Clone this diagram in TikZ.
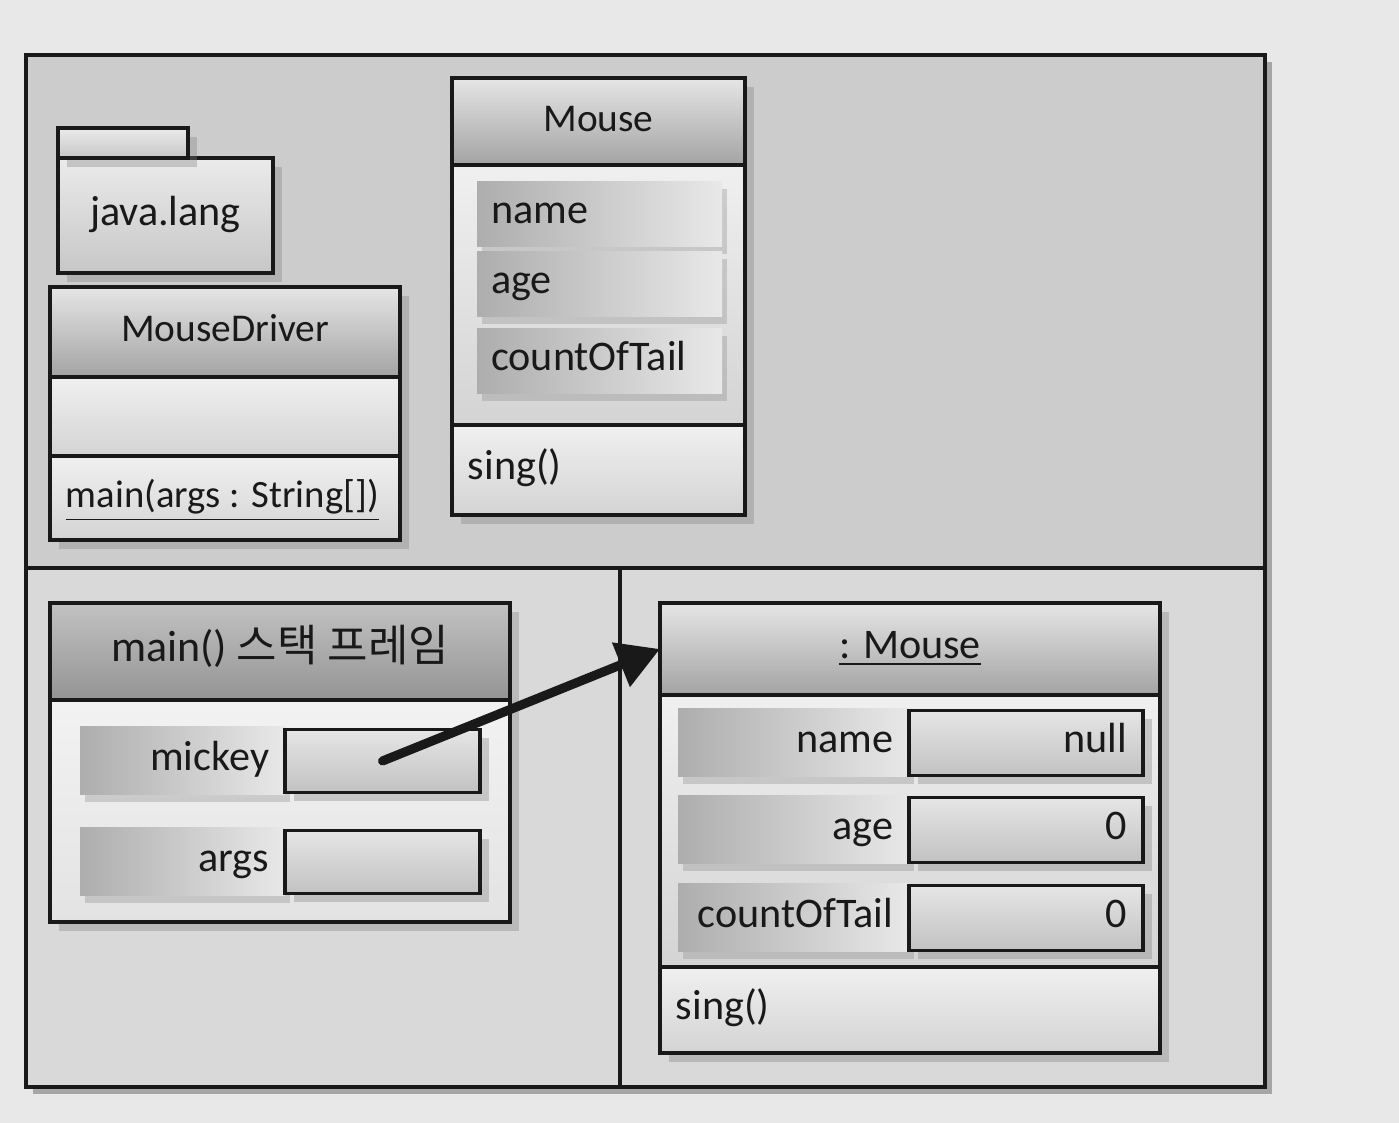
\documentclass[tikz,border=0pt]{standalone}
\usepackage{fontspec}
\setmainfont{Carlito}
\newfontfamily\krfont{Noto Sans CJK KR}
\usetikzlibrary{positioning,arrows.meta,shadows}

\tikzset{
  box/.style={draw=black!90, line width=0.9pt, rectangle, inner sep=0pt, outer sep=0pt},
  txt/.style={font=\fontsize{12}{14}\selectfont, text=black!90, text height=1.6ex, text depth=0.45ex},
  head/.style={box, txt, font=\fontsize{11.2}{14}\selectfont, top color=black!10, bottom color=black!36},
  stackhead/.style={head, font=\fontsize{12.5}{14}\selectfont, top color=black!24, bottom color=black!42},
  part/.style={box, top color=black!6, bottom color=black!17},
  shade/.style={drop shadow={opacity=0.35, shadow xshift=2.5pt, shadow yshift=-2.5pt}},
  field/.style={rectangle, inner sep=0pt, outer sep=0pt, left color=black!32, right color=black!9,
    drop shadow={opacity=0.3, shadow xshift=1.5pt, shadow yshift=-2pt}},
  slot/.style={box, line width=1pt, top color=black!10, bottom color=black!24, shade},
  ref/.style={line width=2.6pt, line cap=round, draw=black!90, -{Triangle[length=12pt,width=13pt]}},
}

\begin{document}
\begin{tikzpicture}
  \useasboundingbox[fill=black!9] (0,0) rectangle (13.99,11.23);

  % 바깥 틀
  \fill[black!35] (0.33,0.29) rectangle (12.72,10.61);
  \fill[black!20] (0.26,5.55) rectangle (12.65,10.68);
  \fill[black!15] (0.26,0.36) rectangle (12.65,5.55);
  \draw[black!90, line width=0.9pt] (0.26,0.36) rectangle (12.65,10.68);
  \draw[black!90, line width=0.9pt] (0.26,5.55) -- (12.65,5.55);
  \draw[black!90, line width=0.9pt] (6.20,0.36) -- (6.20,5.55);

  % 패키지
  \node[box, txt, top color=black!8, bottom color=black!22, shade, minimum width=2.15cm,
    minimum height=1.15cm, anchor=north west] (pkg) at (0.58,9.65) {java.lang};
  \node[box, top color=black!8, bottom color=black!22, shade, minimum width=1.30cm,
    minimum height=0.30cm, anchor=south west] (pkgtab) at (pkg.north west) {};

  % MouseDriver 클래스
  \node[head, shade, minimum width=3.50cm, minimum height=0.90cm, anchor=north west]
    (mdhead) at (0.50,8.36) {MouseDriver};
  \node[part, shade, minimum width=3.50cm, minimum height=0.79cm, below=0pt of mdhead] (mdattr) {};
  \node[part, shade, minimum width=3.50cm, minimum height=0.84cm, below=0pt of mdattr] (mdops) {};
  \node[txt, font=\fontsize{11}{14}\selectfont, right=1pt of mdops.west] (mdmain)
    {\underline{main(args : String[])}};

  % Mouse 클래스
  \node[head, shade, minimum width=2.93cm, minimum height=0.87cm, anchor=north west]
    (mhead) at (4.52,10.45) {Mouse};
  \node[part, shade, minimum width=2.93cm, minimum height=2.60cm, below=0pt of mhead] (mattr) {};
  \node[part, shade, minimum width=2.93cm, minimum height=0.90cm, below=0pt of mattr] (mops) {};
  \foreach \n/\lab/\y in {mname/name/9.09, mage/age/8.39, mcount/countOfTail/7.62} {
    \node[field, minimum width=2.45cm, minimum height=0.65cm, anchor=west] (\n) at (4.77,\y) {};
    \node[txt, right=0.5pt of \n.west] (\n-txt) {\lab};
  }
  \node[txt, right=1pt of mops.west] (msing) {sing()};

  % main() 스택 프레임
  \node[stackhead, shade, minimum width=4.60cm, minimum height=0.97cm, anchor=north west]
    (sfhead) at (0.50,5.20) {main() {\krfont 스택 프레임}};
  \node[part, shade, top color=black!5, bottom color=black!11, minimum width=4.60cm,
    minimum height=2.22cm, below=0pt of sfhead] (sfbody) {};
  \foreach \n/\y in {mickey/3.62, args/2.61} {
    \node[field, minimum width=2.05cm, minimum height=0.68cm, anchor=east] (\n-key) at (2.85,\y) {};
    \node[slot, minimum width=1.95cm, minimum height=0.63cm, anchor=west] (\n-val) at (2.85,\y) {};
    \node[txt, left=1pt of \n-key.east] (\n-txt) {\n};
  }

  % Mouse 인스턴스
  \node[head, txt, shade, minimum width=5.00cm, minimum height=0.92cm, anchor=north west]
    (ohead) at (6.60,5.20) {\underline{: Mouse}};
  \node[part, shade, minimum width=5.00cm, minimum height=2.72cm, below=0pt of ohead] (oattr) {};
  \node[part, shade, minimum width=5.00cm, minimum height=0.86cm, below=0pt of oattr] (oops) {};
  \foreach \n/\lab/\val/\y in {oname/name/null/3.80, oage/age/0/2.93, ocount/countOfTail/0/2.05} {
    \node[field, minimum width=2.31cm, minimum height=0.68cm, anchor=east] (\n-key) at (9.09,\y) {};
    \node[slot, minimum width=2.34cm, minimum height=0.65cm, anchor=west] (\n-val) at (9.09,\y) {};
    \node[txt, left=1pt of \n-key.east] (\n-txt) {\lab};
    \node[txt, left=1pt of \n-val.east] (\n-num) {\val};
  }
  \node[txt, right=1pt of oops.west] (osing) {sing()};

  % 참조 화살표
  \draw[ref] (mickey-val.center) -- (ohead.west);
\end{tikzpicture}
\end{document}
